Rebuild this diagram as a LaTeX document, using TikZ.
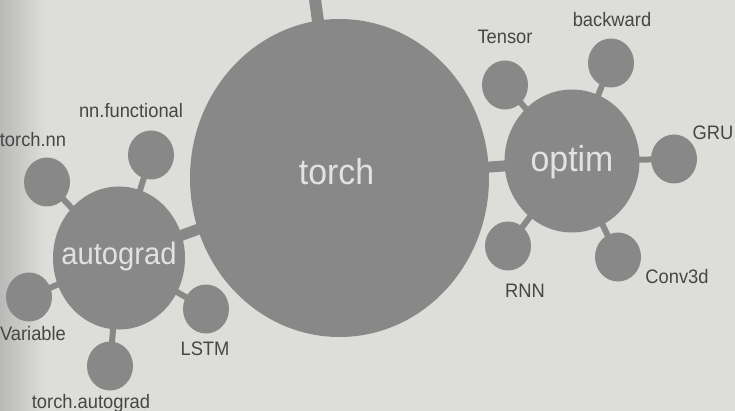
\documentclass[tikz,border=0pt]{standalone}
\usepackage{fontspec}
\setmainfont{Liberation Sans}
\usetikzlibrary{shapes.geometric}
\pgfdeclarelayer{back}
\pgfdeclarelayer{bg}
\pgfsetlayers{back,bg,main}
\definecolor{paper}{RGB}{221,221,217}
\definecolor{shadowc}{RGB}{185,185,183}
\definecolor{ballc}{RGB}{136,136,136}
\definecolor{labc}{RGB}{70,70,70}
\definecolor{innerc}{RGB}{226,226,226}
\newcommand{\sqz}[1]{\scalebox{0.94}[1]{#1}}
\begin{document}
\begin{tikzpicture}[x=1pt,y=-1pt,
  ball/.style={ellipse, fill=ballc, draw=none, inner sep=0pt},
  sat/.style={ball, minimum width=46pt, minimum height=49pt},
  lbl/.style={text=labc, inner sep=0pt, font=\fontsize{19.5}{20}\selectfont},
  hubtxt/.style={text=innerc, inner sep=0pt},
  link/.style={draw=ballc, line width=6pt},
  thick link/.style={draw=ballc, line width=11pt}]
\useasboundingbox (0,0) rectangle (735,411);
\begin{pgfonlayer}{back}
  \fill[paper] (0,0) rectangle (735,411);
  \shade[left color=shadowc, right color=paper] (0,0) rectangle (45,411);
\end{pgfonlayer}

% hubs
\node[ball, minimum width=299pt, minimum height=318pt,
  label={[hubtxt, font=\fontsize{36}{38}\selectfont, xshift=-3pt, yshift=6pt]center:\sqz{torch}}]
  (torch) at (339.5,178) {};
\node[ball, minimum width=132pt, minimum height=143pt,
  label={[hubtxt, font=\fontsize{31}{33}\selectfont, yshift=2pt]center:\sqz{autograd}}]
  (autograd) at (119,258) {};
\node[ball, minimum width=135pt, minimum height=143pt,
  label={[hubtxt, font=\fontsize{36}{38}\selectfont, yshift=-1pt]center:\sqz{optim}}]
  (optim) at (572,161) {};

% satellites of autograd
\node[sat] (nn)    at (47,182)  {};
\node[sat] (func)  at (151,155) {};
\node[sat] (var)   at (29,297)  {};
\node[sat] (lstm)  at (206,309) {};
\node[sat] (tauto) at (110,366) {};

% satellites of optim
\node[sat] (tensor) at (505,85)  {};
\node[sat] (back)   at (611,63)  {};
\node[sat] (gru)    at (674,159) {};
\node[sat] (conv)   at (618,257) {};
\node[sat] (rnn)    at (508,246) {};

% labels
\node[lbl] at (131,111) {\sqz{nn.functional}};
\node[lbl] at (33,140)  {\sqz{torch.nn}};
\node[lbl] at (33,334)  {\sqz{Variable}};
\node[lbl] at (205,349) {\sqz{LSTM}};
\node[lbl] at (91,403)  {\sqz{torch.autograd}};
\node[lbl] at (505,37)  {\sqz{Tensor}};
\node[lbl] at (612,20)  {\sqz{backward}};
\node[lbl] at (713,133) {\sqz{GRU}};
\node[lbl] at (677,277) {\sqz{Conv3d}};
\node[lbl] at (525,291) {\sqz{RNN}};

\coordinate (topend) at (314,-8);

% connectors
\begin{pgfonlayer}{bg}
  \draw[thick link, line width=12pt] (torch.center) -- (topend);
  \draw[thick link] (autograd.center) -- (torch.center);
  \draw[thick link] (torch.center) -- (optim.center);
  \foreach \s in {nn,func,var,lstm,tauto}
    \draw[link] (autograd.center) -- (\s.center);
  \foreach \s in {tensor,back,gru,conv,rnn}
    \draw[link] (optim.center) -- (\s.center);
\end{pgfonlayer}
\end{tikzpicture}
\end{document}
